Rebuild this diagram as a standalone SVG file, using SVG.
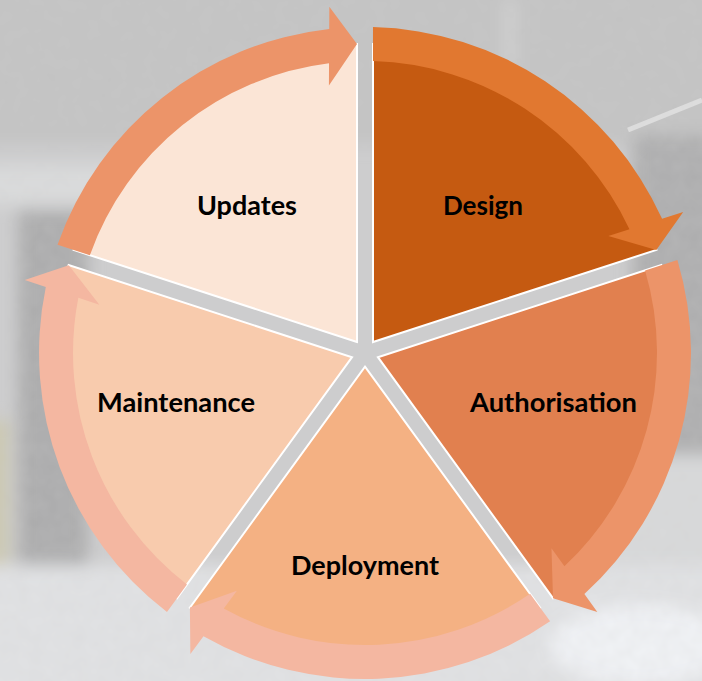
<svg xmlns="http://www.w3.org/2000/svg" width="702" height="681" viewBox="0 0 702 681">
  <defs>
    <filter id="blur" x="-10%" y="-10%" width="120%" height="120%">
      <feGaussianBlur stdDeviation="8"/>
    </filter>
    <filter id="grain" x="0" y="0" width="100%" height="100%">
      <feTurbulence type="fractalNoise" baseFrequency="0.07" numOctaves="2" seed="3" result="n"/>
      <feColorMatrix in="n" type="matrix" values="0 0 0 0 0.62  0 0 0 0 0.62  0 0 0 0 0.62  0 0 0 0.22 0"/>
    </filter>
    <path id="sector" d="M 373.0 342.0 L 373.0 44.0 A 298 298 0 0 1 656.42 249.91 Z"/>
    <path id="arrow" d="M 372.99 27.10 A 326 326 0 0 1 662.09 218.85 L 683.21 212.11 L 656.31 249.95 L 608.33 236.0 L 629.45 229.26 A 292 292 0 0 0 373.0 61.11 Z"/>
  </defs>
  <style>
    .sec { stroke: #FFFFFF; stroke-width: 2; stroke-linejoin: miter; }
    .lbl { font-family: Lato, "Open Sans", "Liberation Sans", sans-serif; font-weight: 700; font-size: 27.5px; fill: #000000; text-anchor: middle; }
  </style>

  <g id="background">
    <rect x="0" y="0" width="702" height="681" fill="#CDCDCE"/>
    <g filter="url(#blur)">
      <rect x="-20" y="-20" width="742" height="165" fill="#C3C3C3"/>
      <rect x="-20" y="165" width="150" height="40" fill="#DADBDC"/>
      <rect x="18" y="210" width="70" height="430" fill="#ABABAC"/>
      <rect x="-20" y="420" width="28" height="150" fill="#CCC8AE"/>
      <rect x="-20" y="565" width="742" height="140" fill="#E1E2E4"/>
      <ellipse cx="640" cy="645" rx="90" ry="40" fill="#F1F3F6"/>
      <rect x="632" y="135" width="90" height="330" fill="#ADADAE"/>
      <rect x="600" y="455" width="120" height="110" fill="#D8D9DA"/>
      <rect x="506" y="0" width="8" height="70" fill="#D6D6D6"/>
    </g>
    <line x1="628" y1="130" x2="702" y2="100" stroke="#DEDEDE" stroke-width="5"/>
    <rect x="0" y="0" width="702" height="681" filter="url(#grain)"/>
  </g>

  <g id="node-design">
    <use href="#sector" class="sec" fill="#C55A11"/>
    <text class="lbl" x="483" y="215" textLength="80" lengthAdjust="spacingAndGlyphs">Design</text>
  </g>
  <g id="node-authorisation">
    <use href="#sector" class="sec" fill="#E1804F" transform="rotate(72 365 353)"/>
    <text class="lbl" x="553.5" y="412" textLength="167" lengthAdjust="spacingAndGlyphs">Authorisation</text>
  </g>
  <g id="node-deployment">
    <use href="#sector" class="sec" fill="#F4B183" transform="rotate(144 365 353)"/>
    <text class="lbl" x="365" y="575" textLength="148" lengthAdjust="spacingAndGlyphs">Deployment</text>
  </g>
  <g id="node-maintenance">
    <use href="#sector" class="sec" fill="#F8CBAD" transform="rotate(216 365 353)"/>
    <text class="lbl" x="176" y="412" textLength="158" lengthAdjust="spacingAndGlyphs">Maintenance</text>
  </g>
  <g id="node-updates">
    <use href="#sector" class="sec" fill="#FBE5D6" transform="rotate(288 365 353)"/>
    <text class="lbl" x="247" y="215" textLength="100" lengthAdjust="spacingAndGlyphs">Updates</text>
  </g>

  <g id="connectors">
    <use href="#arrow" fill="#E17830"/>
    <use href="#arrow" fill="#EC9469" transform="rotate(72 365 353)"/>
    <use href="#arrow" fill="#F4B7A1" transform="rotate(144 365 353)"/>
    <use href="#arrow" fill="#F4B7A1" transform="rotate(216 365 353)"/>
    <use href="#arrow" fill="#EC9469" transform="rotate(288 365 353)"/>
  </g>
</svg>
